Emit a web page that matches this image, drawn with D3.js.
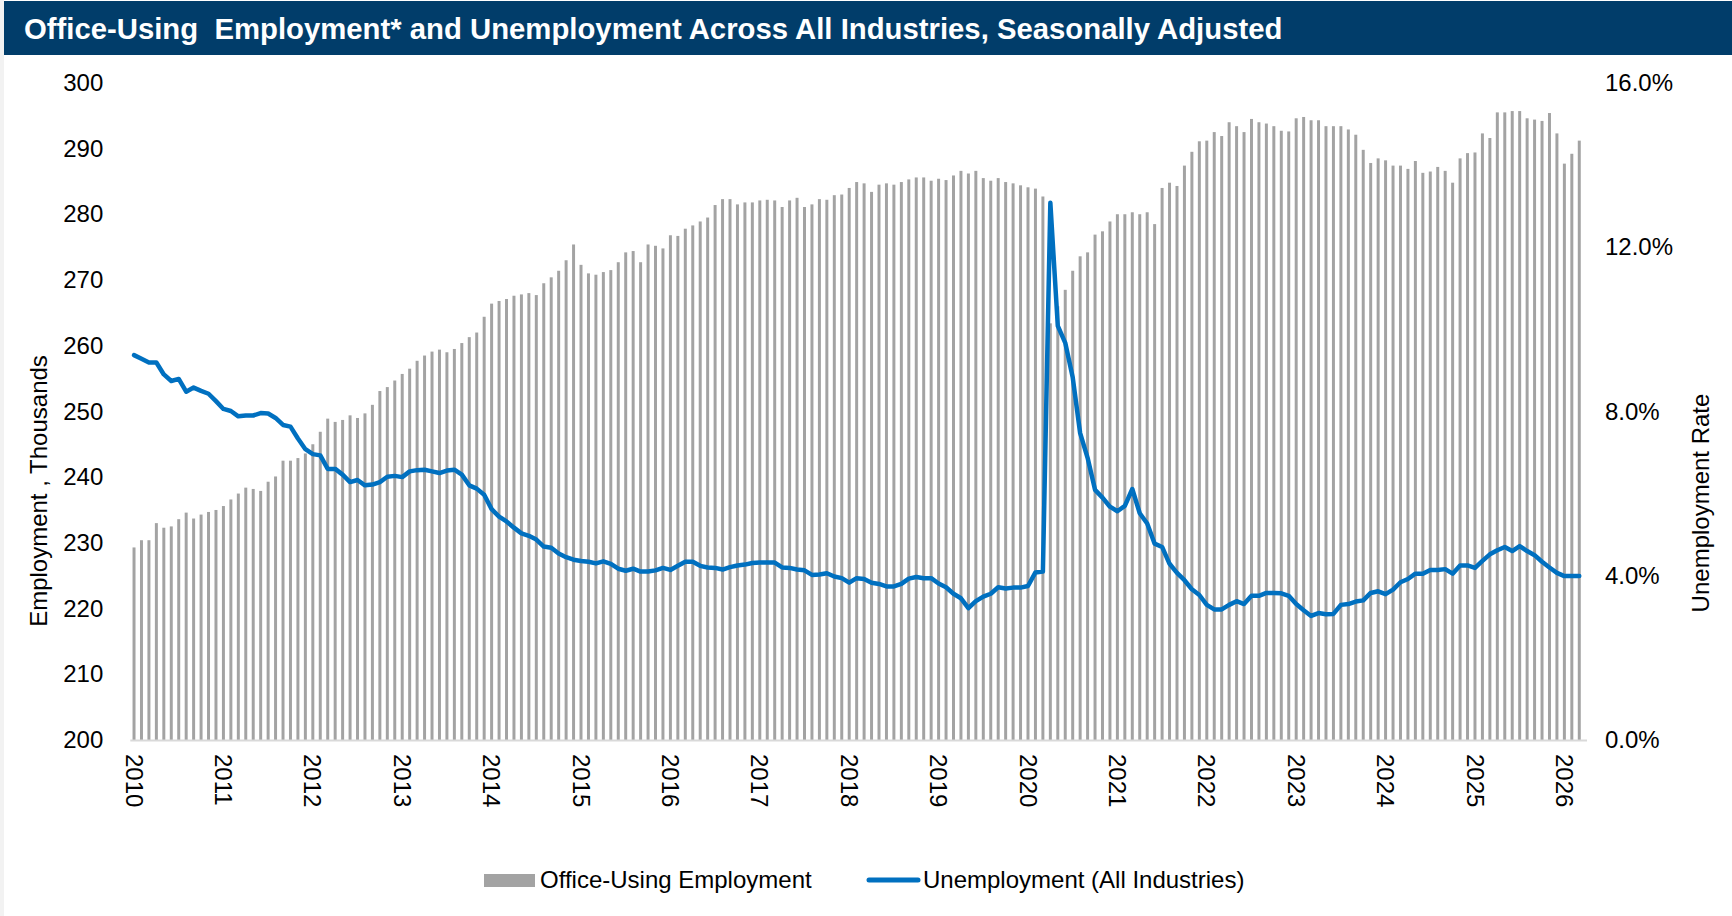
<!DOCTYPE html>
<html>
<head>
<meta charset="utf-8">
<script src="https://cdn.jsdelivr.net/npm/d3@7"></script>
<style>
  body { margin: 0; background: #fff; }
  svg { display: block; font-family: "Liberation Sans", Arial, sans-serif; }
</style>
</head>
<body>
<div id="chart"></div>
<script>
// monthly, Jan 2010 - Mar 2026
var months = d3.timeMonth.range(new Date(2010, 0, 1), new Date(2026, 3, 1));

var years = ["2010","2011","2012","2013","2014","2015","2016","2017","2018",
             "2019","2020","2021","2022","2023","2024","2025","2026"];

// office-using employment, thousands
var employment = [
  229.3, 230.4, 230.4, 233.0, 232.3, 232.5, 233.6, 234.6, 233.7, 234.3, 234.7, 235.0,
  235.6, 236.6, 237.5, 238.4, 238.2, 237.9, 239.3, 240.1, 242.5, 242.5, 242.9, 243.6,
  245.0, 246.9, 248.9, 248.4, 248.7, 249.4, 249.0, 249.7, 251.0, 253.1, 253.7, 254.7,
  255.7, 256.5, 257.7, 258.5, 259.1, 259.4, 259.0, 259.5, 260.4, 261.3, 262.0, 264.4,
  266.4, 266.8, 267.1, 267.6, 267.8, 268.0, 267.7, 269.5, 270.4, 271.4, 273.0, 275.4,
  272.3, 271.0, 270.8, 271.2, 271.5, 272.7, 274.2, 274.4, 272.7, 275.4, 275.2, 274.8,
  276.8, 276.7, 277.8, 278.3, 278.9, 279.5, 281.4, 282.3, 282.3, 281.5, 281.8, 281.8,
  282.1, 282.2, 282.1, 281.1, 282.1, 282.5, 281.1, 281.5, 282.3, 282.2, 282.9, 283.0,
  284.0, 284.9, 284.7, 283.4, 284.5, 284.7, 284.5, 284.9, 285.3, 285.6, 285.6, 285.1,
  285.4, 285.2, 285.9, 286.6, 286.2, 286.6, 285.5, 285.1, 285.5, 284.9, 284.7, 284.4,
  284.1, 283.9, 282.7, 263.4, 266.0, 268.5, 271.4, 273.6, 274.2, 276.9, 277.4, 278.9,
  280.0, 280.0, 280.3, 280.0, 280.3, 278.5, 284.0, 284.8, 284.3, 287.4, 289.5, 291.1,
  291.2, 292.5, 291.9, 294.0, 293.4, 292.5, 294.5, 294.0, 293.8, 293.4, 292.7, 292.6,
  294.6, 294.8, 294.3, 294.3, 293.4, 293.4, 293.4, 292.9, 292.1, 289.8, 287.8, 288.5,
  288.2, 287.4, 287.4, 286.9, 288.1, 286.3, 286.5, 287.2, 286.6, 284.8, 288.5, 289.3,
  289.4, 292.3, 291.6, 295.5, 295.5, 295.7, 295.7, 294.6, 294.4, 294.2, 295.4, 292.3,
  287.7, 289.2, 291.2
];

// unemployment rate, all industries, %
var unemployment = [
  9.37, 9.28, 9.19, 9.19, 8.90, 8.74, 8.79, 8.48, 8.58, 8.50, 8.43, 8.25,
  8.06, 8.01, 7.88, 7.90, 7.90, 7.96, 7.95, 7.84, 7.67, 7.63, 7.34, 7.08,
  6.96, 6.93, 6.60, 6.60, 6.46, 6.28, 6.33, 6.20, 6.22, 6.28, 6.41, 6.43,
  6.40, 6.54, 6.57, 6.58, 6.54, 6.50, 6.56, 6.58, 6.46, 6.20, 6.12, 5.97,
  5.62, 5.44, 5.32, 5.17, 5.03, 4.97, 4.88, 4.71, 4.68, 4.54, 4.45, 4.39,
  4.36, 4.34, 4.30, 4.35, 4.29, 4.17, 4.12, 4.17, 4.10, 4.10, 4.13, 4.19,
  4.14, 4.24, 4.34, 4.34, 4.24, 4.20, 4.19, 4.15, 4.21, 4.25, 4.27, 4.31,
  4.32, 4.32, 4.32, 4.20, 4.19, 4.15, 4.13, 4.02, 4.03, 4.06, 3.98, 3.94,
  3.83, 3.94, 3.92, 3.83, 3.80, 3.74, 3.74, 3.80, 3.93, 3.97, 3.94, 3.94,
  3.81, 3.72, 3.56, 3.45, 3.21, 3.38, 3.49, 3.56, 3.72, 3.69, 3.71, 3.71,
  3.75, 4.08, 4.10, 13.08, 10.08, 9.67, 8.83, 7.47, 6.87, 6.09, 5.90, 5.68,
  5.57, 5.70, 6.11, 5.52, 5.27, 4.78, 4.70, 4.29, 4.07, 3.89, 3.67, 3.53,
  3.29, 3.18, 3.18, 3.29, 3.38, 3.31, 3.51, 3.51, 3.58, 3.58, 3.57, 3.51,
  3.31, 3.16, 3.02, 3.09, 3.06, 3.07, 3.29, 3.31, 3.37, 3.40, 3.58, 3.62,
  3.55, 3.66, 3.84, 3.92, 4.05, 4.05, 4.14, 4.14, 4.16, 4.05, 4.25, 4.25,
  4.19, 4.36, 4.52, 4.62, 4.70, 4.60, 4.72, 4.60, 4.50, 4.34, 4.20, 4.07,
  3.99, 3.99, 3.99
];

var leftTicks  = [200, 210, 220, 230, 240, 250, 260, 270, 280, 290, 300];
var rightTicks = [0, 4, 8, 12, 16];

var W = 1732, H = 916;
var plot = {left: 130.3, right: 1583, top: 82.8, bottom: 740};
var barColor = "#a3a3a3", lineColor = "#0070c0";

var data = months.map(function(d, i) {
  return {date: d, emp: employment[i], rate: unemployment[i]};
});

var svg = d3.select("#chart").append("svg")
    .attr("width", W)
    .attr("height", H);

svg.append("rect")
    .attr("width", W).attr("height", H)
    .attr("fill", "#f2f2f2");
svg.append("rect")
    .attr("x", 4).attr("width", W - 4).attr("height", H)
    .attr("fill", "#fff");

// title band
svg.append("rect")
    .attr("x", 4).attr("y", 1)
    .attr("width", W - 4).attr("height", 54)
    .attr("fill", "#013d6a");
svg.append("text")
    .attr("x", 24).attr("y", 39)
    .attr("fill", "#fff")
    .attr("font-size", 29.3)
    .attr("font-weight", "bold")
    .style("white-space", "pre")
    .text("Office-Using  Employment* and Unemployment Across All Industries, Seasonally Adjusted");

var x = d3.scaleBand()
    .domain(d3.range(data.length))
    .range([plot.left, plot.right])
    .paddingInner(0.6)
    .paddingOuter(0.3);

var yL = d3.scaleLinear()
    .domain([200, 300])
    .range([plot.bottom, plot.top]);

var yR = d3.scaleLinear()
    .domain([0, 16])
    .range([plot.bottom, plot.top]);

function cx(i) { return x(i) + x.bandwidth() / 2; }

// bars
svg.append("g")
    .attr("class", "bars")
  .selectAll("rect")
    .data(data)
  .enter().append("rect")
    .attr("x", function(d, i) { return x(i); })
    .attr("y", function(d) { return yL(d.emp); })
    .attr("width", x.bandwidth())
    .attr("height", function(d) { return yL(200) - yL(d.emp); })
    .attr("fill", barColor);

// x axis
var janIdx = data.map(function(d, i) { return i; })
    .filter(function(i) { return data[i].date.getMonth() === 0; });

var xAxis = d3.axisBottom(x)
    .tickValues(janIdx)
    .tickFormat(function(i) { return years[janIdx.indexOf(i)]; })
    .tickSize(0);

var gx = svg.append("g")
    .attr("transform", "translate(0," + plot.bottom + ")")
    .call(xAxis);
gx.select(".domain")
    .attr("d", "M" + (plot.left) + ",0.5H" + (plot.right + 4) )
    .attr("stroke", "#d9d9d9")
    .attr("stroke-width", 2);
gx.selectAll("text")
    .attr("transform", "rotate(90)")
    .attr("x", 14).attr("y", 0)
    .attr("dy", "0.35em")
    .attr("text-anchor", "start")
    .attr("font-size", 24)
    .attr("font-family", null)
    .attr("fill", "#000");

// left axis
var gl = svg.append("g")
    .attr("transform", "translate(" + plot.left + ",0)")
    .call(d3.axisLeft(yL).tickValues(leftTicks).tickSize(0).tickPadding(27));
gl.select(".domain").remove();
gl.selectAll("text")
    .attr("font-size", 24)
    .attr("font-family", null)
    .attr("fill", "#000");

// right axis
var gr = svg.append("g")
    .attr("transform", "translate(" + (plot.right + 4) + ",0)")
    .call(d3.axisRight(yR).tickValues(rightTicks).tickSize(0).tickPadding(18)
      .tickFormat(function(d) { return d.toFixed(1) + "%"; }));
gr.select(".domain").remove();
gr.selectAll("text")
    .attr("font-size", 24)
    .attr("font-family", null)
    .attr("fill", "#000");

// unemployment line
var line = d3.line()
    .x(function(d, i) { return cx(i); })
    .y(function(d) { return yR(d.rate); });

svg.append("path")
    .datum(data)
    .attr("d", line)
    .attr("fill", "none")
    .attr("stroke", lineColor)
    .attr("stroke-width", 4.5)
    .attr("stroke-linejoin", "round")
    .attr("stroke-linecap", "round");

// axis titles
svg.append("text")
    .attr("transform", "translate(39,491) rotate(-90)")
    .attr("text-anchor", "middle")
    .attr("dy", "0.35em")
    .attr("font-size", 24)
    .text("Employment , Thousands");

svg.append("text")
    .attr("transform", "translate(1701,503) rotate(-90)")
    .attr("text-anchor", "middle")
    .attr("dy", "0.35em")
    .attr("font-size", 24)
    .text("Unemployment Rate");

// legend
var lg = svg.append("g").attr("font-size", 24);
lg.append("rect")
    .attr("x", 484).attr("y", 874)
    .attr("width", 51).attr("height", 13)
    .attr("fill", barColor);
lg.append("text")
    .attr("x", 540).attr("y", 880)
    .attr("dy", "0.35em")
    .text("Office-Using Employment");
lg.append("line")
    .attr("x1", 869).attr("x2", 918)
    .attr("y1", 880).attr("y2", 880)
    .attr("stroke", lineColor)
    .attr("stroke-width", 5)
    .attr("stroke-linecap", "round");
lg.append("text")
    .attr("x", 923).attr("y", 880)
    .attr("dy", "0.35em")
    .text("Unemployment (All Industries)");
</script>
</body>
</html>
